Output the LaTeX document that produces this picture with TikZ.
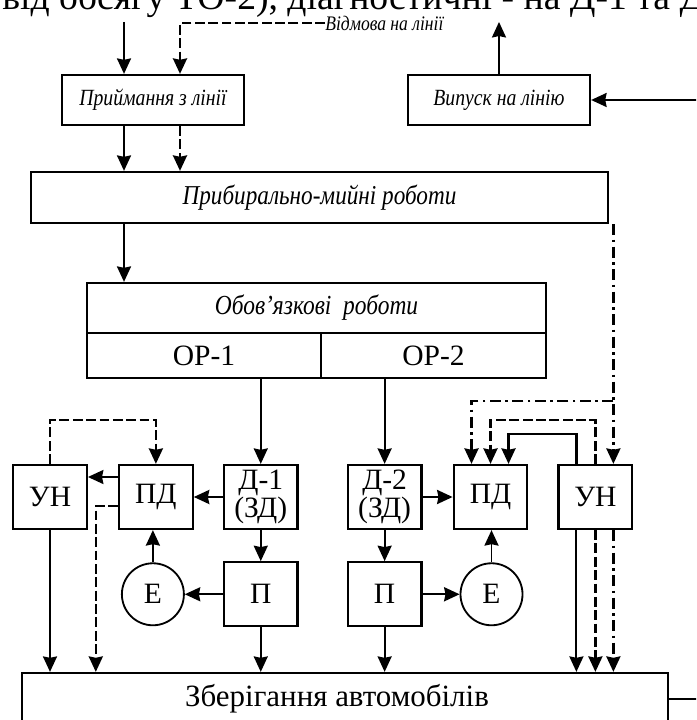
\documentclass[tikz,border=0pt]{standalone}
\usepackage{fontspec}
\setmainfont{Liberation Serif}
\newfontface\narrowit{Liberation Serif Italic}[FakeStretch=0.85]
\usetikzlibrary{arrows.meta, positioning, calc}

\tikzset{
  blk/.style={draw, rectangle, line width=1.6pt, inner sep=0pt, align=center, font=\fontsize{21}{18}\selectfont},
  sblk/.style={blk, minimum width=1.84cm, minimum height=1.6cm},
  ital/.style={font=\fontsize{16.5}{18}\selectfont\narrowit},
  arr/.style={-{Stealth[length=11pt, width=10pt, inset=1pt]}, line width=1.3pt},
  dsh/.style={line width=1.6pt, dash pattern=on 7pt off 2.5pt},
  dshdot/.style={line width=1.6pt, dash pattern=on 8pt off 3pt on 2pt off 3pt},
}

\begin{document}
\begin{tikzpicture}[x=0.025cm, y=-0.025cm]
  \useasboundingbox (0,0) rectangle (696,720);
  \clip (0,0) rectangle (696,720);

  \node[anchor=base west, inner sep=0pt, font=\fontsize{26.8}{26}\selectfont] (hdr) at (2,10) {від обсягу ТО-2), діагностичні - на Д-1 та Д-2};

  \node[anchor=west, inner sep=0pt, font=\fontsize{14.7}{14}\selectfont\narrowit] (vidm) at (325,23) {Відмова на лінії};

  \node[blk, ital, minimum width=4.55cm, minimum height=1.25cm] (priyom) at (153,100) {Приймання з лінії};

  \node[blk, ital, minimum width=4.55cm, minimum height=1.25cm] (vypusk) at (499,100) {Випуск на лінію};

  \node[blk, font=\fontsize{19.4}{20}\selectfont\narrowit, minimum width=14.425cm, minimum height=1.275cm] (prybyr) at (319.5,197.5) {Прибирально-мийні роботи};

  \node[blk, font=\fontsize{19.6}{20}\selectfont\narrowit, minimum width=11.475cm, minimum height=1.25cm] (obov) at (316.5,308) {Обов’язкові \ роботи};

  \node[blk, minimum width=5.85cm, minimum height=1.125cm] (op1) at (204,355.5) {ОР-1};

  \node[blk, minimum width=5.625cm, minimum height=1.125cm] (op2) at (433.5,355.5) {ОР-2};

  \node[sblk] (unl) at (50,497) {УН};
  \node[sblk, right=0.75cm of unl] (pdl) {ПД};
  \node[sblk, right=0.725cm of pdl] (d1) {Д-1\\(ЗД)};
  \node[sblk, right=1.2cm of d1] (d2) {Д-2\\(ЗД)};
  \node[sblk, right=0.75cm of d2] (pdr) {ПД};
  \node[sblk, right=0.725cm of pdr] (unr) {УН};

  \node[sblk, below=0.775cm of d1] (pl) {П};
  \node[sblk, below=0.775cm of d2] (pr) {П};
  \node[draw, circle, line width=1.3pt, minimum size=1.55cm, inner sep=0pt, font=\fontsize{21}{18}\selectfont, left=0.95cm of pl] (el) {Е};
  \node[draw, circle, line width=1.3pt, minimum size=1.55cm, inner sep=0pt, font=\fontsize{21}{18}\selectfont, right=0.925cm of pr] (er) {Е};

  \node[blk, font=\fontsize{22}{18}\selectfont, minimum width=16.15cm, minimum height=1.3cm] (zber) at (345,699) {Зберігання автомобілів\hspace*{0.4cm}};

  \coordinate (in1) at (124,22);
  \coordinate (in2) at ($(priyom.north)+(27,0)$);
  \coordinate (ddk) at (0,401);
  \coordinate (ua) at ($(unr.north)+(-19,0)$);
  \coordinate (uc) at ($(unr.north)+(18,0)$);
  \coordinate (la) at ($(unr.south)+(-19,0)$);
  \coordinate (lc) at ($(unr.south)+(18,0)$);

  \draw[arr] (in1) -- (in1 |- priyom.north);
  \draw[arr, dsh] (vidm.west) -| (in2);
  \draw[arr] (in1 |- priyom.south) -- (in1 |- prybyr.north);
  \draw[arr, dsh] (in2 |- priyom.south) -- (in2 |- prybyr.north);
  \draw[arr] (in1 |- prybyr.south) -- (in1 |- obov.north);
  \draw[arr] (vypusk.north) -- (vypusk.north |- in1);
  \draw[arr] (zber.east) -- ++(40,0) |- (vypusk.east);

  \draw[arr] (d1.north |- op1.south) -- (d1.north);
  \draw[arr] (d2.north |- op2.south) -- (d2.north);

  \draw[arr, dshdot] (uc |- prybyr.south) -- (uc);
  \draw[arr, dshdot] (uc |- ddk) -| ($(pdr.north)+(-19,0)$);
  \draw[arr, dsh] (unr.north) -- ++(0,-44) -| (pdr.north);
  \draw[arr, line width=1.6pt] (ua) -- ++(0,-30) -| ($(pdr.north)+(18,0)$);

  \draw[arr, dsh] (unl.north) -- ++(0,-44) -| (pdl.north);
  \draw[arr] ($(pdl.west)+(0,-20)$) -- ($(unl.east)+(0,-20)$);
  \draw[arr, line width=1.6pt] (d1.west) -- (pdl.east);
  \draw[arr, line width=1.6pt] (d2.east) -- (pdr.west);
  \draw[arr] (el.north) -- (el.north |- pdl.south);
  \draw[arr] (er.north) -- (er.north |- pdr.south);
  \draw[arr] (d1.south) -- (pl.north);
  \draw[arr] (d2.south) -- (pr.north);
  \draw[arr] (pl.west) -- (el.east);
  \draw[arr, line width=1.6pt] (pr.east) -- (er.west);

  \draw[arr] (unl.south) -- (unl.south |- zber.north);
  \draw[arr, dsh] ($(pdl.west)+(0,9)$) -| ($(zber.north west)+(75,0)$);
  \draw[arr] (pl.south) -- (pl.south |- zber.north);
  \draw[arr] (pr.south) -- (pr.south |- zber.north);
  \draw[arr] (la) -- (la |- zber.north);
  \draw[arr, dsh] (unr.south) -- (unr.south |- zber.north);
  \draw[arr, dshdot] (lc) -- (lc |- zber.north);
\end{tikzpicture}
\end{document}
